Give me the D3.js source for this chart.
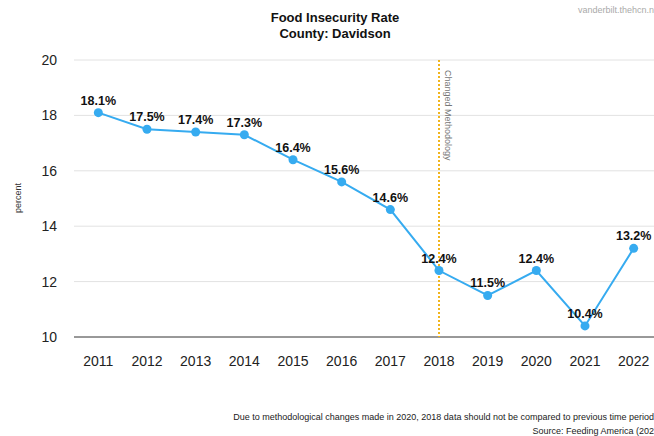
<!DOCTYPE html>
<html>
<head>
<meta charset="utf-8">
<script src="https://cdn.jsdelivr.net/npm/d3@7"></script>
<style>
  body { margin: 0; background: #fff; }
  text { font-family: "Liberation Sans", Arial, sans-serif; }
</style>
</head>
<body>
<div id="chart"></div>
<script>
var width = 654,
  height = 436;

var years = ["2011", "2012", "2013", "2014", "2015", "2016", "2017", "2018", "2019", "2020", "2021", "2022"];
var rates = [18.1, 17.5, 17.4, 17.3, 16.4, 15.6, 14.6, 12.4, 11.5, 12.4, 10.4, 13.2];
var yTicks = [10, 12, 14, 16, 18, 20];
var changeYear = "2018";

var svg = d3.select("#chart")
  .append("svg")
  .attr("width", width)
  .attr("height", height);

var x = d3.scaleBand()
  .domain(years)
  .range([74, 658]);

var y = d3.scaleLinear()
  .domain([10, 20])
  .range([337, 60]);

function cx(d) { return x(d) + x.bandwidth() / 2; }

// gridlines
svg.selectAll(".grid")
  .data(yTicks)
  .enter().append("line")
  .attr("x1", 74)
  .attr("x2", width)
  .attr("y1", function (d) { return y(d); })
  .attr("y2", function (d) { return y(d); })
  .attr("stroke", function (d) { return d == 10 ? "#333" : "#e2e2e2"; })
  .attr("stroke-width", 1);

// y tick labels
svg.selectAll(".ylab")
  .data(yTicks)
  .enter().append("text")
  .attr("x", 57)
  .attr("y", function (d) { return y(d) + 5; })
  .attr("text-anchor", "end")
  .attr("font-size", 14)
  .attr("fill", "#222")
  .text(function (d) { return d; });

svg.append("text")
  .attr("transform", "translate(21,198) rotate(-90)")
  .attr("text-anchor", "middle")
  .attr("font-size", 9)
  .attr("fill", "#333")
  .text("percent");

// x tick labels
svg.selectAll(".xlab")
  .data(years)
  .enter().append("text")
  .attr("x", cx)
  .attr("y", 366)
  .attr("text-anchor", "middle")
  .attr("font-size", 14)
  .attr("fill", "#222")
  .text(function (d) { return d; });

// methodology line
svg.append("line")
  .attr("x1", cx(changeYear))
  .attr("x2", cx(changeYear))
  .attr("y1", y(20))
  .attr("y2", y(10))
  .attr("stroke", "#f2b51c")
  .attr("stroke-width", 2)
  .attr("stroke-dasharray", "2,2");

svg.append("text")
  .attr("transform", "translate(" + (cx(changeYear) + 6) + "," + (y(20) + 10) + ") rotate(90)")
  .attr("font-size", 9)
  .attr("fill", "#777")
  .text("Changed Methodology");

// line + points
var line = d3.line()
  .x(function (d, i) { return cx(years[i]); })
  .y(function (d) { return y(d); });

svg.append("path")
  .datum(rates)
  .attr("d", line)
  .attr("fill", "none")
  .attr("stroke", "#36abf0")
  .attr("stroke-width", 2);

svg.selectAll(".pt")
  .data(rates)
  .enter().append("circle")
  .attr("cx", function (d, i) { return cx(years[i]); })
  .attr("cy", function (d) { return y(d); })
  .attr("r", 4.5)
  .attr("fill", "#36abf0");

svg.selectAll(".vlab")
  .data(rates)
  .enter().append("text")
  .attr("x", function (d, i) { return cx(years[i]); })
  .attr("y", function (d) { return y(d) - 8; })
  .attr("text-anchor", "middle")
  .attr("font-size", 12.5)
  .attr("font-weight", "bold")
  .attr("fill", "#111")
  .text(function (d) { return d.toFixed(1) + "%"; });

// titles
svg.append("text")
  .attr("x", 335)
  .attr("y", 22)
  .attr("text-anchor", "middle")
  .attr("font-size", 13)
  .attr("font-weight", "bold")
  .attr("fill", "#111")
  .text("Food Insecurity Rate");

svg.append("text")
  .attr("x", 335)
  .attr("y", 38)
  .attr("text-anchor", "middle")
  .attr("font-size", 13)
  .attr("font-weight", "bold")
  .attr("fill", "#111")
  .text("County: Davidson");

svg.append("text")
  .attr("x", 578)
  .attr("y", 13)
  .attr("font-size", 9)
  .attr("fill", "#aaa")
  .text("vanderbilt.thehcn.net");

// footnotes
svg.append("text")
  .attr("x", 661)
  .attr("y", 420)
  .attr("text-anchor", "end")
  .attr("font-size", 9)
  .attr("fill", "#222")
  .text("Due to methodological changes made in 2020, 2018 data should not be compared to previous time periods.");

svg.append("text")
  .attr("x", 662)
  .attr("y", 434)
  .attr("text-anchor", "end")
  .attr("font-size", 9)
  .attr("fill", "#222")
  .text("Source: Feeding America (2022)");
</script>
</body>
</html>
